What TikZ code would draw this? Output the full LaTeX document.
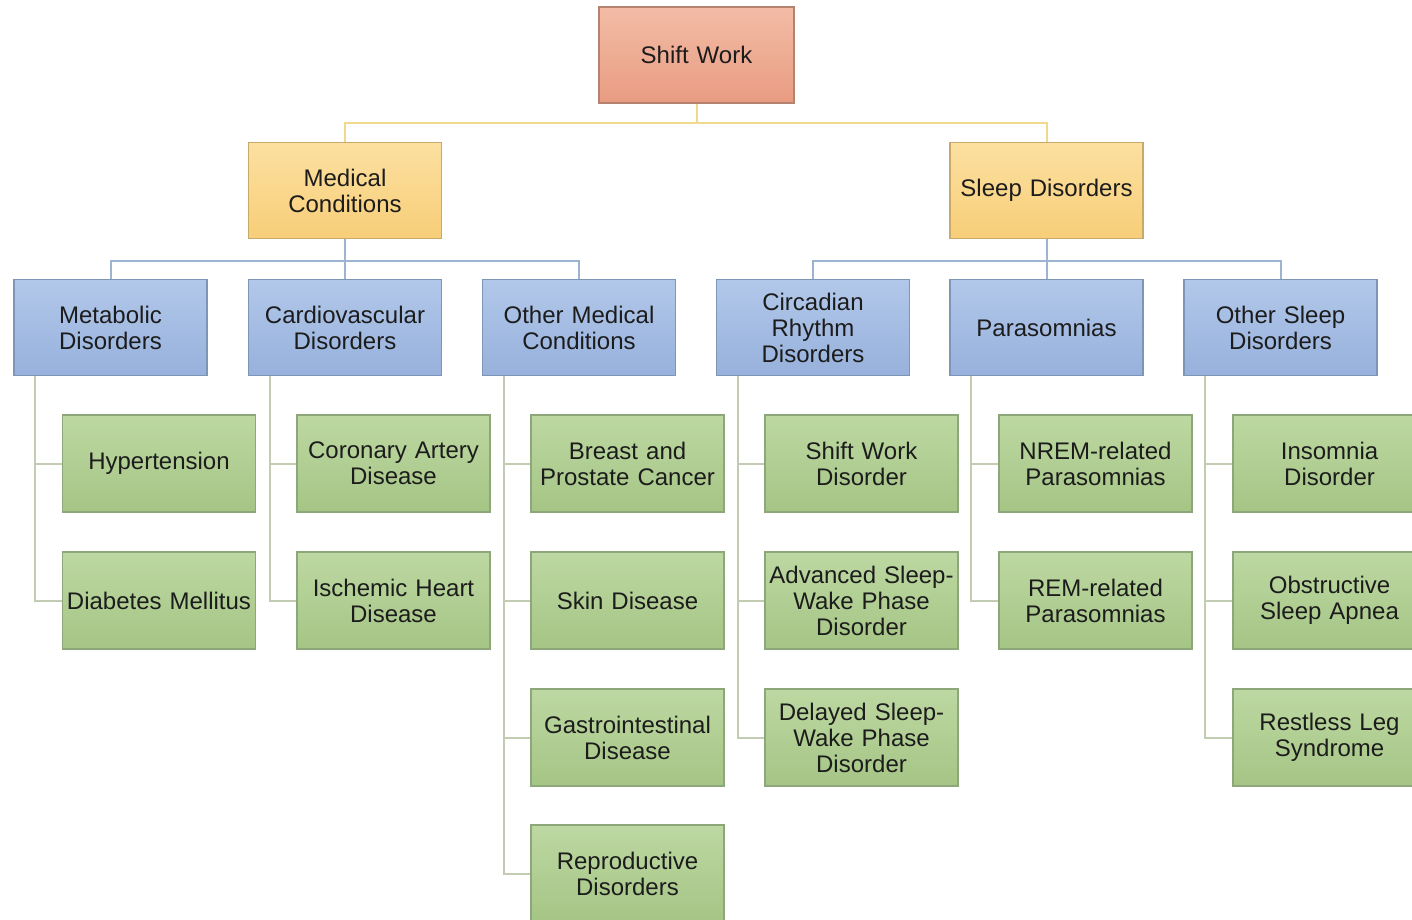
\documentclass[tikz,border=0pt]{standalone}
\usepackage{fontspec}
\setmainfont{Liberation Sans}
\definecolor{txt}{HTML}{1C1C1C}
\definecolor{salmonT}{HTML}{F3BCA6}\definecolor{salmonB}{HTML}{E89C82}\definecolor{salmonD}{HTML}{B4826E}
\definecolor{yelT}{HTML}{FCE0A0}\definecolor{yelB}{HTML}{F7CE78}\definecolor{yelD}{HTML}{C9A96A}
\definecolor{bluT}{HTML}{B2C8EA}\definecolor{bluB}{HTML}{97B1DC}\definecolor{bluD}{HTML}{7F95B8}
\definecolor{grnT}{HTML}{BDD8A2}\definecolor{grnB}{HTML}{A5C585}\definecolor{grnD}{HTML}{8DA67A}
\definecolor{yLine}{HTML}{EFD98A}\definecolor{bLine}{HTML}{9DB3D2}\definecolor{gLine}{HTML}{C2CCB2}
\tikzset{
  box/.style={draw, line width=1.3pt, minimum width=193pt, minimum height=96pt,
    text width=190pt, align=center, inner sep=0pt, text=txt,
    font=\fontsize{24}{26}\selectfont},
  rootbox/.style={box, minimum width=195pt, draw=salmonD, top color=salmonT, bottom color=salmonB},
  catbox/.style={box, draw=yelD, top color=yelT, bottom color=yelB},
  groupbox/.style={box, draw=bluD, top color=bluT, bottom color=bluB},
  leafbox/.style={box, minimum height=97pt, draw=grnD, top color=grnT, bottom color=grnB},
  yconn/.style={draw=yLine, line width=2pt},
  bconn/.style={draw=bLine, line width=2pt},
  gconn/.style={draw=gLine, line width=2pt},
}
\begin{document}
\begin{tikzpicture}[x=1pt,y=-1pt]
\path[use as bounding box, clip] (0,0) rectangle (1412,919);
\fill[white] (0,0) rectangle (1412,919);

% top level
\node[rootbox] (shift) at (696.5,55) {Shift Work};
\node[catbox] (med) at (345,190.5) {Medical\\Conditions};
\node[catbox] (sleep) at (1046.5,190.5) {Sleep Disorders};

% groups
\node[groupbox] (metab) at (110.5,327.5) {Metabolic\\Disorders};
\node[groupbox] (cardio) at (345,327.5) {Cardiovascular\\Disorders};
\node[groupbox] (othmed) at (579,327.5) {Other Medical\\Conditions};
\node[groupbox] (circ) at (813,327.5) {Circadian\\Rhythm\\Disorders};
\node[groupbox] (para) at (1046.5,327.5) {Parasomnias};
\node[groupbox] (othsleep) at (1280.5,327.5) {Other Sleep\\Disorders};

% leaves
\node[leafbox] (hyp) at (159,463.5) {Hypertension};
\node[leafbox] (diab) at (159,600.5) {Diabetes Mellitus};
\node[leafbox] (cad) at (393.5,463.5) {Coronary Artery\\Disease};
\node[leafbox] (ihd) at (393.5,600.5) {Ischemic Heart\\Disease};
\node[leafbox] (cancer) at (627.5,463.5) {Breast and\\Prostate Cancer};
\node[leafbox] (skin) at (627.5,600.5) {Skin Disease};
\node[leafbox] (gi) at (627.5,737.5) {Gastrointestinal\\Disease};
\node[leafbox] (repro) at (627.5,873.5) {Reproductive\\Disorders};
\node[leafbox] (swd) at (861.5,463.5) {Shift Work\\Disorder};
\node[leafbox] (aswpd) at (861.5,600.5) {Advanced Sleep-\\Wake Phase\\Disorder};
\node[leafbox] (dswpd) at (861.5,737.5) {Delayed Sleep-\\Wake Phase\\Disorder};
\node[leafbox] (nrem) at (1095.5,463.5) {NREM-related\\Parasomnias};
\node[leafbox] (rem) at (1095.5,600.5) {REM-related\\Parasomnias};
\node[leafbox] (insom) at (1329.5,463.5) {Insomnia\\Disorder};
\node[leafbox] (osa) at (1329.5,600.5) {Obstructive\\Sleep Apnea};
\node[leafbox] (rls) at (1329.5,737.5) {Restless Leg\\Syndrome};

% connectors: root to categories
\draw[yconn] (shift.south) -- ++(0,19) -| (med.north);
\draw[yconn] (shift.south) ++(0,19) -| (sleep.north);

% categories to groups
\draw[bconn] (med.south) -- ++(0,22) -| (metab.north);
\draw[bconn] (med.south) ++(0,22) -| (othmed.north);
\draw[bconn] (med.south) -- (cardio.north);
\draw[bconn] (sleep.south) -- ++(0,22) -| (circ.north);
\draw[bconn] (sleep.south) ++(0,22) -| (othsleep.north);
\draw[bconn] (sleep.south) -- (para.north);

% groups to leaves
\foreach \g/\leaves in {metab/{hyp,diab}, cardio/{cad,ihd}, othmed/{cancer,skin,gi,repro},
    circ/{swd,aswpd,dswpd}, para/{nrem,rem}, othsleep/{insom,osa,rls}}{
  \foreach \l in \leaves {
    \draw[gconn] ([xshift=22pt]\g.south west) |- (\l.west);
  }
}
\end{tikzpicture}
\end{document}
